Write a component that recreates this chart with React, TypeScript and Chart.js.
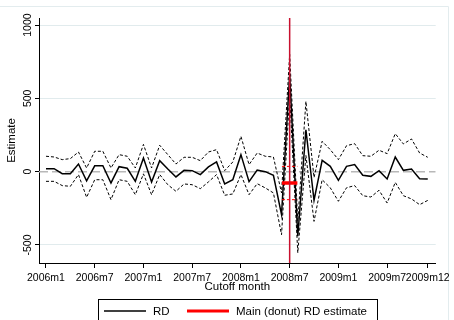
import React, { useEffect, useRef } from "react";
import { Chart, registerables } from "chart.js";

Chart.register(...registerables);

// ---- Data ----
const tickMonthIndex = [0, 6, 12, 18, 24, 30, 36, 42, 47];
const tickLabels = ["2006m1", "2006m7", "2007m1", "2007m7", "2008m1", "2008m7", "2009m1", "2009m7", "2009m12"];
const yTicks = [-500, 0, 500, 1000];

const rdEstimate = [
  20, 20, -14, -14, 52, -62, 40, 40, -77, 34, 23, -66,
  93, -70, 75, 18, -36, 9, 7, -20, 32, 66, -84, -55,
  116, -68, 10, 0, -25, -293, 660, -441, 286, -195, 77, 36,
  -59, 36, 48, -25, -32, 7, -50, 100, 9, 18, -48, -50,
];
const ciUpper = [
  105, 100, 82, 89, 134, 25, 139, 139, 25, 116, 105, 25,
  186, 25, 180, 116, 52, 98, 98, 75, 134, 150, 7, 66,
  241, 48, 127, 105, 100, -145, 800, -339, 479, -40, 207, 150,
  82, 177, 191, 109, 105, 146, 123, 259, 189, 223, 127, 98,
];
const ciLower = [
  -66, -66, -95, -100, -20, -175, -55, -55, -191, -55, -66, -157,
  -15, -157, -20, -89, -134, -84, -89, -116, -70, -20, -161, -152,
  -20, -157, -82, -111, -145, -430, 520, -553, 110, -339, -55, -110,
  -202, -110, -95, -164, -173, -127, -214, -73, -164, -186, -225, -196,
];

const donutMonth = 30;
const donutEstimate = -77;
const donutCiUpper = 36;
const donutCiLower = -191;
const donutHalfWidth = 0.95;

const yMin = -623;
const yMax = 1048;
const xMin = -0.86;
const xMax = 47.98;

const FONT = "'Liberation Sans', Arial, Helvetica, sans-serif";

const toPoints = (arr: number[]) => arr.map((v, i) => ({ x: i, y: v }));

const decorPlugin = {
  id: "stataDecor",
  beforeDraw(chart: any) {
    const ctx = chart.ctx;
    ctx.save();
    ctx.fillStyle = "#ffffff";
    ctx.fillRect(0, 0, chart.width, chart.height);
    ctx.strokeStyle = "#e3ecee";
    ctx.lineWidth = 1;
    ctx.beginPath();
    ctx.moveTo(0, 6.5);
    ctx.lineTo(448.5, 6.5);
    ctx.lineTo(448.5, chart.height);
    ctx.stroke();
    ctx.restore();
  },
  afterDraw(chart: any) {
    const ctx = chart.ctx;
    ctx.save();
    // legend box
    ctx.strokeStyle = "#000";
    ctx.lineWidth = 1;
    ctx.strokeRect(98.5, 299.5, 279, 30);
    // RD sample
    ctx.beginPath();
    ctx.strokeStyle = "#000";
    ctx.lineWidth = 1.5;
    ctx.moveTo(104, 311);
    ctx.lineTo(146, 311);
    ctx.stroke();
    // donut sample
    ctx.beginPath();
    ctx.strokeStyle = "#ff0000";
    ctx.lineWidth = 3;
    ctx.moveTo(187, 311);
    ctx.lineTo(229, 311);
    ctx.stroke();
    ctx.fillStyle = "#000";
    ctx.font = `11.5px ${FONT}`;
    ctx.textBaseline = "middle";
    ctx.textAlign = "left";
    ctx.fillText("RD", 153, 311.5);
    ctx.fillText("Main (donut) RD estimate", 236, 311.5);
    ctx.restore();
  },
};

export default function App() {
  const ref = useRef<HTMLCanvasElement | null>(null);

  useEffect(() => {
    if (!ref.current) return;
    const chart = new Chart(ref.current, {
      type: "line",
      data: {
        datasets: [
          {
            label: "cutoff",
            data: [
              { x: donutMonth, y: yMin },
              { x: donutMonth, y: yMax },
            ],
            borderColor: "#c8102e",
            borderWidth: 1.5,
            pointRadius: 0,
          },
          {
            label: "Main (donut) RD estimate",
            data: [
              { x: donutMonth - donutHalfWidth, y: donutEstimate },
              { x: donutMonth + donutHalfWidth, y: donutEstimate },
            ],
            borderColor: "#ff0000",
            borderWidth: 3.5,
            pointRadius: 0,
          },
          {
            label: "donut upper",
            data: [
              { x: donutMonth - donutHalfWidth, y: donutCiUpper },
              { x: donutMonth + donutHalfWidth, y: donutCiUpper },
            ],
            borderColor: "#ff0000",
            borderWidth: 1,
            borderDash: [3, 2],
            pointRadius: 0,
          },
          {
            label: "donut lower",
            data: [
              { x: donutMonth - donutHalfWidth, y: donutCiLower },
              { x: donutMonth + donutHalfWidth, y: donutCiLower },
            ],
            borderColor: "#ff0000",
            borderWidth: 1,
            borderDash: [3, 2],
            pointRadius: 0,
          },
          {
            label: "RD",
            data: toPoints(rdEstimate),
            borderColor: "#000",
            borderWidth: 1.5,
            pointRadius: 0,
            tension: 0,
          },
          {
            label: "upper",
            data: toPoints(ciUpper),
            borderColor: "#000",
            borderWidth: 1,
            borderDash: [3, 2],
            pointRadius: 0,
          },
          {
            label: "lower",
            data: toPoints(ciLower),
            borderColor: "#000",
            borderWidth: 1,
            borderDash: [3, 2],
            pointRadius: 0,
          },
          {
            label: "zero",
            data: [
              { x: xMin, y: 0 },
              { x: xMax, y: 0 },
            ],
            borderColor: "#b8b8b8",
            borderWidth: 1.5,
            borderDash: [9, 4],
            pointRadius: 0,
          },
        ],
      },
      options: {
        responsive: false,
        animation: false,
        devicePixelRatio: 1,
        layout: { padding: { left: 0, top: 18, right: 18, bottom: 0 } },
        plugins: {
          legend: { display: false },
          tooltip: { enabled: false },
        },
        scales: {
          x: {
            type: "linear",
            min: xMin,
            max: xMax,
            afterBuildTicks: (scale: any) => {
              scale.ticks = tickMonthIndex.map((v) => ({ value: v }));
            },
            afterFit: (scale: any) => {
              scale.height = 57;
            },
            ticks: {
              autoSkip: false,
              maxRotation: 0,
              minRotation: 0,
              padding: 4,
              color: "#000",
              font: { family: FONT, size: 10.5 },
              callback: (v: any) => {
                const i = tickMonthIndex.indexOf(Number(v));
                return i >= 0 ? tickLabels[i] : "";
              },
            },
            grid: {
              drawOnChartArea: false,
              drawTicks: true,
              tickLength: 5,
              tickColor: "#000",
            },
            border: { color: "#000", width: 1 },
            title: {
              display: true,
              text: "Cutoff month",
              color: "#000",
              font: { family: FONT, size: 11.5 },
              padding: { top: 0, bottom: 26 },
            },
          },
          y: {
            type: "linear",
            min: yMin,
            max: yMax,
            afterBuildTicks: (scale: any) => {
              scale.ticks = yTicks.map((v) => ({ value: v }));
            },
            afterFit: (scale: any) => {
              scale.width = 39;
            },
            ticks: {
              minRotation: 90,
              maxRotation: 90,
              crossAlign: "center",
              padding: -5,
              color: "#000",
              font: { family: FONT, size: 10.5 },
              callback: (v: any) => String(v),
            },
            grid: {
              drawOnChartArea: true,
              color: (c: any) => (c.tick && c.tick.value === 0 ? "rgba(0,0,0,0)" : "#e1ebed"),
              lineWidth: 1,
              tickLength: 4,
              tickColor: "#000",
            },
            border: { color: "#000", width: 1 },
            title: {
              display: true,
              text: "Estimate",
              color: "#000",
              font: { family: FONT, size: 11.5 },
              padding: { top: 5, bottom: 0 },
            },
          },
        },
      } as any,
      plugins: [decorPlugin],
    });
    return () => chart.destroy();
  }, []);

  return (
    <div style={{ position: "fixed", left: 0, top: 0, width: 454, height: 320, background: "#fff" }}>
      <canvas ref={ref} width={454} height={320} style={{ display: "block" }} />
    </div>
  );
}
